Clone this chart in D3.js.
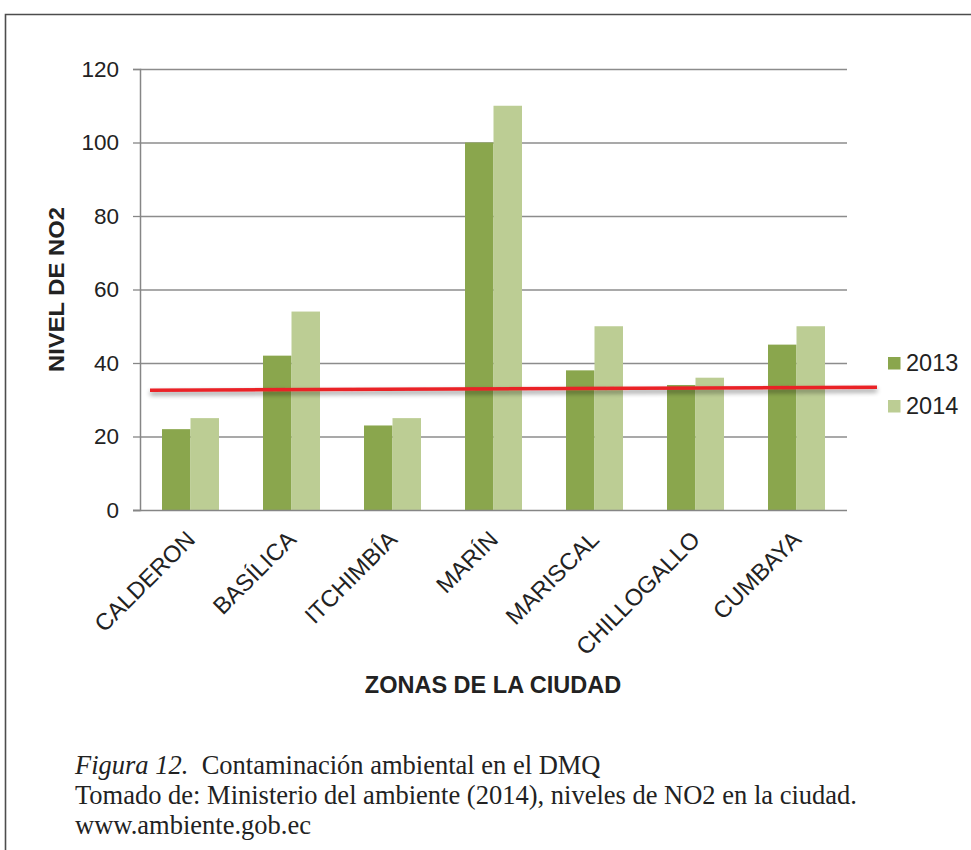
<!DOCTYPE html>
<html>
<head>
<meta charset="utf-8">
<script src="https://cdn.jsdelivr.net/npm/d3@7"></script>
<style>
  html, body { margin: 0; padding: 0; background: #fff; }
  svg { display: block; }
</style>
</head>
<body>
<svg id="chart" width="971" height="850"></svg>
<script>
// NO2 levels by city zone, 2013 vs 2014
const zones = ["CALDERON", "BASÍLICA", "ITCHIMBÍA", "MARÍN", "MARISCAL", "CHILLOGALLO", "CUMBAYA"];
const years = ["2013", "2014"];
const values2013 = [22, 42, 23, 100, 38, 34, 45];
const values2014 = [25, 54, 25, 110, 50, 36, 50];
const yTicks = [0, 20, 40, 60, 80, 100, 120];
// hand-drawn reference limit: level at the left and right end of the red line
const limitLine = [32.6, 33.4];
const colors = ["#8aa64d", "#bccd94"];
const captionLines = [
  { italic: "Figura 12.", text: "  Contaminación ambiental en el DMQ" },
  { italic: "", text: "Tomado de: Ministerio del ambiente (2014), niveles de NO2 en la ciudad." },
  { italic: "", text: "www.ambiente.gob.ec" }
];

const sans = "Liberation Sans, Arial, sans-serif";
const svg = d3.select("#chart");
const margin = { left: 140, right: 847, top: 69, bottom: 510 };

// outer figure frame (top and left edges visible)
svg.append("path")
  .attr("d", "M5.5,850 L5.5,14.5 L971,14.5")
  .attr("fill", "none").attr("stroke", "#4d4d4d").attr("stroke-width", 1.6);

const x = d3.scaleBand().domain(zones).range([margin.left, margin.right]);
const xInner = d3.scaleBand().domain(years).range([0, 57]);
const y = d3.scaleLinear().domain([0, 120]).range([margin.bottom, margin.top]);

// gridlines
svg.append("g").selectAll("line").data(yTicks.filter(d => d > 0)).join("line")
  .attr("x1", margin.left).attr("x2", margin.right)
  .attr("y1", d => y(d) + 0.5).attr("y2", d => y(d) + 0.5)
  .attr("stroke", "#8c8c8c").attr("stroke-width", 1.3);

// y axis
const yAxis = d3.axisLeft(y).tickValues(yTicks).tickSize(7).tickPadding(14);
const gy = svg.append("g").attr("transform", `translate(${margin.left},0)`).call(yAxis);
gy.select(".domain").attr("stroke", "#868686").attr("stroke-width", 1.5);
gy.selectAll(".tick line").attr("stroke", "#868686").attr("stroke-width", 1.3);
gy.selectAll(".tick text")
  .attr("font-family", sans)
  .attr("font-size", 22.5).attr("fill", "#222");

// bars
const series = [values2013, values2014];
const groups = svg.append("g").selectAll("g").data(zones).join("g")
  .attr("transform", d => `translate(${x(d) + (x.bandwidth() - 57) / 2},0)`);
groups.selectAll("rect")
  .data((z, i) => years.map((yr, k) => ({ yr, v: series[k][i] })))
  .join("rect")
  .attr("x", d => xInner(d.yr))
  .attr("width", xInner.bandwidth())
  .attr("y", d => y(d.v))
  .attr("height", d => y(0) - y(d.v))
  .attr("fill", (d, k) => colors[k]);

// x axis line
svg.append("line")
  .attr("x1", margin.left - 7).attr("x2", margin.right)
  .attr("y1", y(0) + 0.5).attr("y2", y(0) + 0.5)
  .attr("stroke", "#868686").attr("stroke-width", 1.5);

// rotated category labels
svg.append("g").selectAll("text").data(zones).join("text")
  .attr("transform", d => `translate(${x(d) + x.bandwidth() / 2 + 6},${y(0) + 31}) rotate(-45)`)
  .attr("text-anchor", "end")
  .attr("font-family", sans)
  .attr("font-size", 23.5).attr("fill", "#222")
  .text(d => d);

// red limit line with soft shadow
const defs = svg.append("defs");
const f = defs.append("filter").attr("id", "shadow").attr("x", "-5%").attr("y", "-300%").attr("width", "110%").attr("height", "700%");
f.append("feGaussianBlur").attr("in", "SourceAlpha").attr("stdDeviation", 2.5).attr("result", "b");
f.append("feOffset").attr("in", "b").attr("dy", 3).attr("result", "o");
f.append("feComponentTransfer").attr("in", "o").attr("result", "s")
  .append("feFuncA").attr("type", "linear").attr("slope", 0.45);
const m = f.append("feMerge");
m.append("feMergeNode").attr("in", "s");
m.append("feMergeNode").attr("in", "SourceGraphic");
svg.append("line")
  .attr("x1", margin.left + 10).attr("x2", margin.right + 30)
  .attr("y1", y(limitLine[0])).attr("y2", y(limitLine[1]))
  .attr("stroke", "#ea2128").attr("stroke-width", 3.5)
  .attr("filter", "url(#shadow)");

// legend
const legend = svg.append("g").selectAll("g").data(years).join("g")
  .attr("transform", (d, i) => `translate(888,${357 + i * 43})`);
legend.append("rect").attr("width", 12.5).attr("height", 12.5).attr("fill", (d, i) => colors[i]);
legend.append("text").attr("x", 18).attr("y", 13.5)
  .attr("font-family", sans)
  .attr("font-size", 23.5).attr("fill", "#222").text(d => d);

// axis titles
svg.append("text")
  .attr("transform", `translate(64,${(207 + 372) / 2}) rotate(-90)`)
  .attr("text-anchor", "middle")
  .attr("font-family", sans)
  .attr("font-weight", "bold").attr("font-size", 22.5).attr("fill", "#222")
  .attr("textLength", 165).attr("lengthAdjust", "spacingAndGlyphs")
  .text("NIVEL DE NO2");
svg.append("text")
  .attr("x", 493).attr("y", 693)
  .attr("text-anchor", "middle")
  .attr("font-family", sans)
  .attr("font-weight", "bold").attr("font-size", 23.5).attr("fill", "#222")
  .text("ZONAS DE LA CIUDAD");

// caption
const cap = svg.append("g").selectAll("text").data(captionLines).join("text")
  .attr("x", 75).attr("y", (d, i) => 774 + i * 30)
  .attr("font-family", "Liberation Serif, Times New Roman, serif")
  .attr("font-size", 26.5).attr("fill", "#222")
  .attr("xml:space", "preserve");
cap.append("tspan").attr("font-style", "italic").text(d => d.italic);
cap.append("tspan").text(d => d.text);
</script>
</body>
</html>
